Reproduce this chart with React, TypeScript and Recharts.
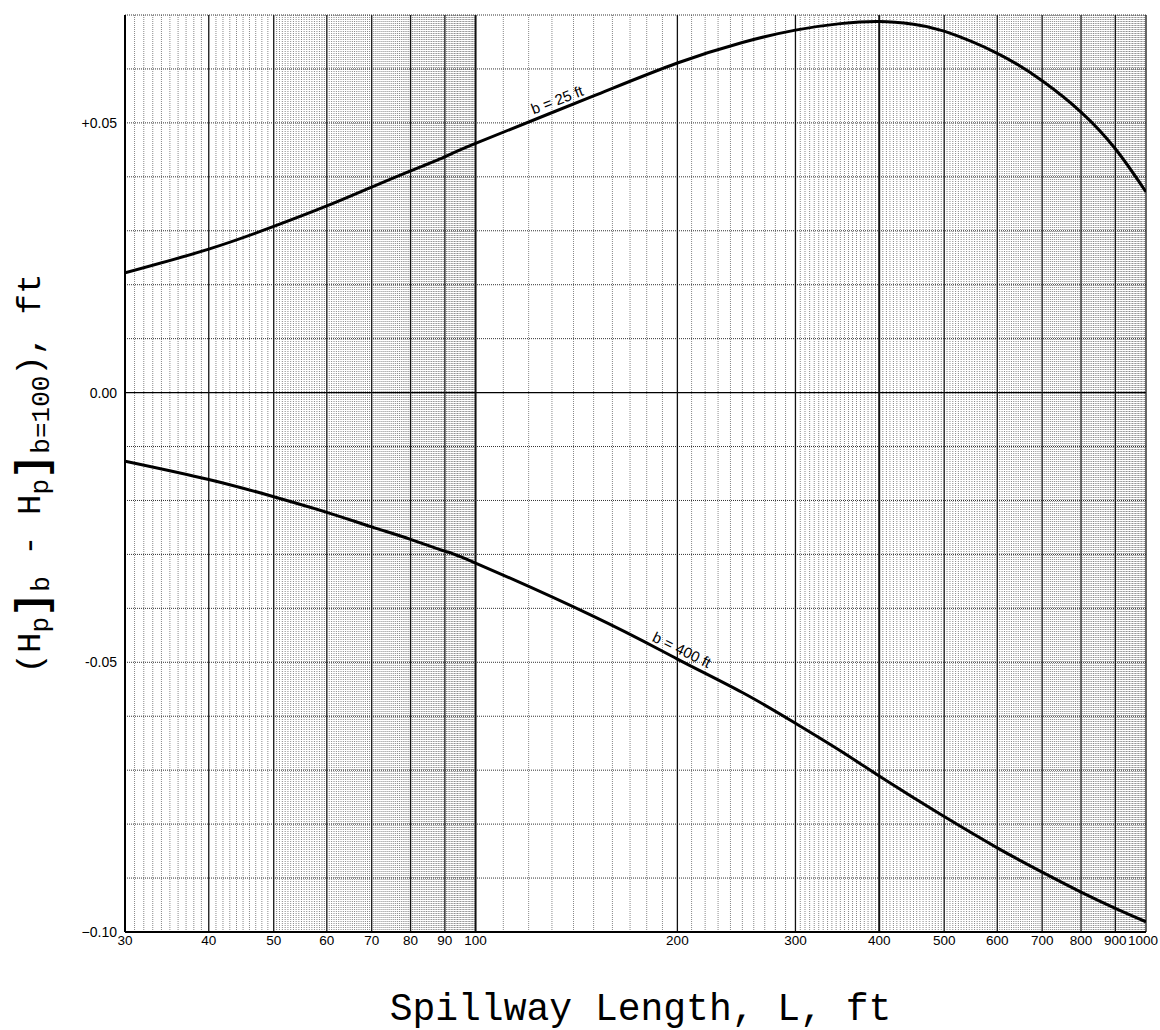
import { ComposedChart, Line, XAxis, YAxis, ReferenceLine, ReferenceDot } from 'recharts'

// spillway length L (ft) and head difference (ft)
const lengths = [30, 40, 50, 60, 70, 80, 90, 100, 150, 200, 250, 300, 350, 400, 450, 500, 600, 700, 800, 900, 1000]
const b25 = [0.0222, 0.0266, 0.0308, 0.0346, 0.0381, 0.0411, 0.0437, 0.0462, 0.055, 0.0611, 0.0649, 0.0672, 0.0684, 0.0688, 0.0683, 0.067, 0.0629, 0.0578, 0.052, 0.0452, 0.0372]
const b400 = [-0.0127, -0.0161, -0.0193, -0.0222, -0.0249, -0.0272, -0.0294, -0.0316, -0.0415, -0.0494, -0.0556, -0.0613, -0.0664, -0.0711, -0.0751, -0.0786, -0.0844, -0.0889, -0.0926, -0.0956, -0.0981]

const xTicks = [30, 40, 50, 60, 70, 80, 90, 100, 200, 300, 400, 500, 600, 700, 800, 900, 1000]
const yTicks = [-0.1, -0.05, 0, 0.05]
const yTickText: Record<string, string> = { '-0.1': '\u22120.10', '-0.05': '-0.05', '0': '0.00', '0.05': '+0.05' }
const yGrid = [-0.09, -0.08, -0.07, -0.06, -0.05, -0.04, -0.03, -0.02, -0.01, 0.01, 0.02, 0.03, 0.04, 0.05, 0.06, 0.07]

const data = lengths.map((L, i) => ({ L, b25: b25[i], b400: b400[i] }))

// semi-log paper rulings
function steps(from: number, to: number, step: number) {
  const out: number[] = []
  for (let v = from + step; v < to - 1e-9; v += step) out.push(Math.round(v * 100) / 100)
  return out
}
const minorX = [
  ...steps(30, 50, 1),
  ...steps(50, 100, 0.5),
  ...steps(100, 200, 10),
  ...steps(200, 300, 10),
  ...steps(300, 1000, 5),
].filter(v => !xTicks.includes(v))

const FONT = 'Liberation Sans, Arial, sans-serif'
const MONO = 'Liberation Mono, DejaVu Sans Mono, monospace'

function XTick({ x, y, payload }: any) {
  // last label sits against the right edge of the sheet
  const dx = payload.value === 1000 ? -3 : 0
  return (
    <text x={x + dx} y={y} dy="0.71em" textAnchor="middle" fontSize={13.5} fontFamily={FONT} fill="#000">
      {payload.value}
    </text>
  )
}

function CurveLabel({ cx, cy, text, angle }: { cx?: number; cy?: number; text: string; angle: number }) {
  if (cx == null || cy == null) return null
  return (
    <text
      transform={`translate(${cx},${cy}) rotate(${angle})`}
      y={-5}
      textAnchor="middle"
      fontSize={15}
      fontFamily={FONT}
      fill="#000"
    >
      {text}
    </text>
  )
}

function YTitle(props: any) {
  const vb = props.viewBox
  const cx = vb.x + 40
  const cy = vb.y + vb.height / 2
  const sub = 26
  return (
    <g transform={`translate(${cx},${cy}) rotate(-90)`}>
      <text x={0} y={0} textAnchor="middle" fontFamily={MONO} fontSize={34} fill="#000">
        (H
        <tspan dy={8} fontSize={sub}>p</tspan>
        <tspan dy={-3} fontSize={42} fontWeight="bold">]</tspan>
        <tspan dy={4} fontSize={sub}>b</tspan>
        <tspan dy={-9}> - H</tspan>
        <tspan dy={8} fontSize={sub}>p</tspan>
        <tspan dy={-3} fontSize={42} fontWeight="bold">]</tspan>
        <tspan dy={4} fontSize={sub}>b=100</tspan>
        <tspan dy={-9}>), ft</tspan>
      </text>
    </g>
  )
}

function XTitle(props: any) {
  const vb = props.viewBox
  return (
    <text x={vb.x + vb.width / 2 + 5} y={vb.y + 88} textAnchor="middle" fontFamily={MONO} fontSize={38} fill="#000">
      Spillway Length, L, ft
    </text>
  )
}

export default function App() {
  return (
    <div style={{ position: 'absolute', left: 0, top: 0, background: '#fff' }}>
      <ComposedChart width={1160} height={1030} data={data} margin={{ top: 15, right: 14, bottom: 68, left: 0 }}>
        <XAxis
          dataKey="L"
          type="number"
          scale="log"
          domain={[30, 1000]}
          ticks={xTicks}
          allowDataOverflow
          interval={0}
          tickSize={0}
          tickMargin={3}
          height={30}
          axisLine={{ stroke: '#000', strokeWidth: 2 }}
          tick={<XTick />}
          label={{ content: XTitle }}
        />
        <YAxis
          type="number"
          domain={[-0.1, 0.07]}
          ticks={yTicks}
          allowDataOverflow
          interval={0}
          width={125}
          tickSize={0}
          tickMargin={8}
          axisLine={{ stroke: '#000', strokeWidth: 2 }}
          tickFormatter={v => yTickText[String(v)] ?? String(v)}
          tick={{ fontSize: 14, fill: '#000', fontFamily: FONT }}
          label={{ content: YTitle }}
        />
        {minorX.map(v => (
          <ReferenceLine key={`mx${v}`} x={v} stroke="#888" strokeWidth={1} strokeDasharray="1 1" />
        ))}
        {yGrid.map(v => (
          <ReferenceLine key={`hy${v}`} y={v} stroke="#333" strokeWidth={1} strokeDasharray="1 1" />
        ))}
        <ReferenceLine y={0} stroke="#000" strokeWidth={1.2} />
        {xTicks.slice(1).map(v => (
          <ReferenceLine key={`MX${v}`} x={v} stroke="#111" strokeWidth={v === 100 || v === 400 ? 2 : 1.3} />
        ))}
        <Line type="natural" dataKey="b25" stroke="#000" strokeWidth={3} dot={false} isAnimationActive={false} />
        <Line type="natural" dataKey="b400" stroke="#000" strokeWidth={3} dot={false} isAnimationActive={false} />
        <ReferenceDot x={134} y={0.0525} r={0} shape={(p: any) => <CurveLabel {...p} text="b = 25 ft" angle={-21} />} />
        <ReferenceDot x={200} y={-0.0494} r={0} shape={(p: any) => <CurveLabel {...p} text="b = 400 ft" angle={26} />} />
      </ComposedChart>
    </div>
  )
}
